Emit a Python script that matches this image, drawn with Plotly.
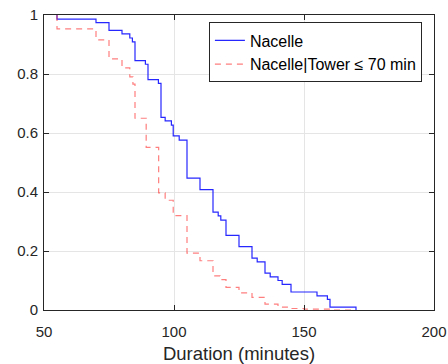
import plotly.graph_objects as go

# Survival curve: Nacelle
nacelle_t = [55, 55, 70, 75, 80, 83, 84, 85, 89, 90, 94, 95, 96.6, 99, 99.7, 102, 105,
             110, 115, 117, 118, 120, 125, 130, 132, 135, 137, 140, 141.6, 145, 155,
             159, 160, 170]
nacelle_s = [1, 0.986, 0.974, 0.948, 0.936, 0.922, 0.909, 0.845, 0.833, 0.781, 0.768,
             0.653, 0.641, 0.627, 0.590, 0.576, 0.447, 0.408, 0.332, 0.319, 0.305,
             0.253, 0.215, 0.176, 0.163, 0.125, 0.112, 0.100, 0.087, 0.061, 0.048,
             0.036, 0.010, 0]

# Survival curve: Nacelle | Tower <= 70 min
cond_t = [55, 55, 70, 75, 80, 83, 84.2, 85, 89.3, 94.1, 96.6, 99.7, 105, 110, 115,
          117.7, 120, 125, 130, 135, 140, 145, 150, 160, 170]
cond_s = [1, 0.953, 0.916, 0.851, 0.821, 0.790, 0.766, 0.650, 0.551, 0.397, 0.372,
          0.320, 0.193, 0.167, 0.116, 0.103, 0.077, 0.058, 0.043, 0.020, 0.010,
          0.005, 0.003, 0, 0]

x_ticks = [50, 100, 150, 200]
y_ticks = [0, 0.2, 0.4, 0.6, 0.8, 1]

FONT = "Liberation Sans, Arial, sans-serif"
TXT = "#262626"

fig = go.Figure()
fig.add_trace(go.Scatter(
    x=nacelle_t, y=nacelle_s, mode="lines", line_shape="hv",
    line=dict(color="rgba(0,0,255,0.85)", width=1.2), name="Nacelle"))
fig.add_trace(go.Scatter(
    x=cond_t, y=cond_s, mode="lines", line_shape="hv",
    line=dict(color="rgba(255,40,40,0.6)", width=1.2, dash="6px,5px"),
    name="Nacelle|Tower ≤ 70 min"))

axis_common = dict(
    showline=True, linecolor=TXT, linewidth=1, mirror="ticks",
    ticks="inside", ticklen=5, tickcolor=TXT, automargin=False,
    showgrid=True, gridcolor="#e5e5e5", gridwidth=1, zeroline=False,
    tickfont=dict(family=FONT, size=15, color=TXT))

fig.update_layout(
    width=448, height=364,
    margin=dict(l=43.5, r=14, t=15, b=53.7),
    paper_bgcolor="white", plot_bgcolor="white",
    font=dict(family=FONT, color=TXT),
    xaxis=dict(range=[50, 200], tickvals=x_ticks, ticklabelstandoff=8,
               title=dict(text="Duration (minutes)", font=dict(family=FONT, size=18.5, color=TXT), standoff=8),
               **axis_common),
    yaxis=dict(range=[0, 1], tickvals=y_ticks, ticklabelstandoff=2, **axis_common),
    legend=dict(x=0.969, y=0.975, xanchor="right", yanchor="top",
                bgcolor="white", bordercolor=TXT, borderwidth=1,
                font=dict(family=FONT, size=16, color="#000000"),
                tracegroupgap=0, itemwidth=30),
    showlegend=True,
)

fig.write_html("out.html")
